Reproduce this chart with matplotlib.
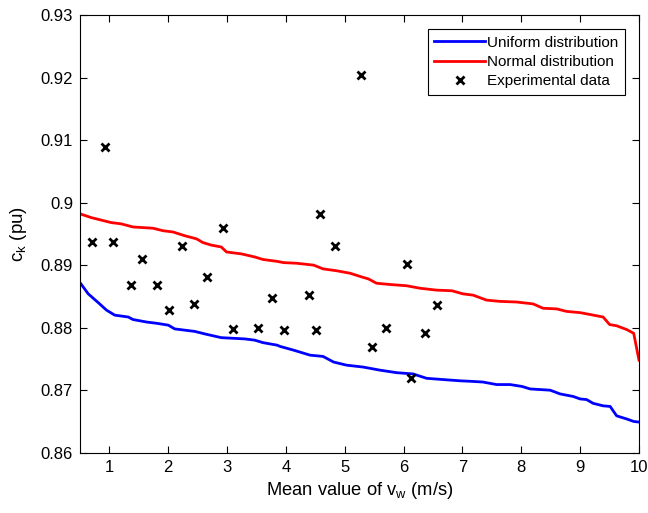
import matplotlib
matplotlib.use('Agg')
import matplotlib.pyplot as plt

plt.rcParams['font.family'] = ['Liberation Sans', 'DejaVu Sans']
plt.rcParams['mathtext.fontset'] = 'custom'
plt.rcParams['mathtext.rm'] = 'Liberation Sans'

# uniform distribution curve
uniform_x = [0.5, 0.64, 0.81, 0.95, 1.09, 1.32, 1.40, 1.63, 1.80, 2.00, 2.11, 2.45, 2.62, 2.90,
             3.30, 3.47, 3.61, 3.85, 3.90, 4.13, 4.41, 4.63, 4.81, 5.03, 5.31, 5.60, 5.88, 6.16,
             6.39, 6.67, 6.96, 7.18, 7.35, 7.58, 7.81, 8.01, 8.15, 8.49, 8.66, 8.88, 9.00, 9.11,
             9.22, 9.39, 9.51, 9.62, 9.79, 9.91, 10.0]
uniform_y = [0.8872, 0.8854, 0.8840, 0.8828, 0.8820, 0.8817, 0.8813, 0.8809, 0.8807, 0.8804,
             0.8798, 0.8794, 0.8790, 0.8784, 0.8782, 0.8780, 0.8776, 0.8772, 0.8770, 0.8764,
             0.8756, 0.8754, 0.8745, 0.8740, 0.8737, 0.8732, 0.8728, 0.8726, 0.8719, 0.8717,
             0.8715, 0.8714, 0.8713, 0.8709, 0.8709, 0.8706, 0.8702, 0.8700, 0.8694, 0.8690,
             0.8686, 0.8685, 0.8679, 0.8675, 0.8674, 0.8659, 0.8654, 0.8650, 0.8649]

# normal distribution curve
normal_x = [0.5, 0.69, 1.03, 1.20, 1.40, 1.74, 1.91, 2.08, 2.28, 2.48, 2.59, 2.73, 2.90, 2.99,
            3.24, 3.47, 3.61, 3.85, 3.96, 4.18, 4.47, 4.63, 4.86, 5.09, 5.29, 5.40, 5.54, 5.77,
            6.05, 6.28, 6.56, 6.82, 7.01, 7.18, 7.41, 7.64, 7.92, 8.20, 8.37, 8.60, 8.77, 9.00,
            9.17, 9.39, 9.50, 9.62, 9.79, 9.91, 10.0]
normal_y = [0.8982, 0.8976, 0.8968, 0.8966, 0.8961, 0.8959, 0.8955, 0.8953, 0.8947, 0.8942,
            0.8936, 0.8932, 0.8929, 0.8921, 0.8918, 0.8913, 0.8909, 0.8906, 0.8904, 0.8903,
            0.8900, 0.8894, 0.8891, 0.8887, 0.8881, 0.8878, 0.8871, 0.8869, 0.8867, 0.8863,
            0.8860, 0.8859, 0.8854, 0.8852, 0.8844, 0.8842, 0.8841, 0.8838, 0.8831, 0.8830,
            0.8826, 0.8824, 0.8821, 0.8817, 0.8805, 0.8803, 0.8797, 0.8791, 0.8748]

# experimental points
exp_x = [0.70, 0.93, 1.06, 1.36, 1.56, 1.80, 2.01, 2.23, 2.43, 2.65, 2.93, 3.10, 3.53,
         3.76, 3.97, 4.40, 4.51, 4.57, 4.83, 5.27, 5.47, 5.70, 6.06, 6.13, 6.37, 6.56]
exp_y = [0.8937, 0.9089, 0.8937, 0.8868, 0.8910, 0.8868, 0.8829, 0.8930, 0.8838, 0.8881,
         0.8959, 0.8798, 0.8799, 0.8847, 0.8797, 0.8852, 0.8797, 0.8982, 0.8931, 0.9204,
         0.8769, 0.8799, 0.8902, 0.8719, 0.8792, 0.8837]

x_ticks = [1, 2, 3, 4, 5, 6, 7, 8, 9, 10]
y_ticks = [0.86, 0.87, 0.88, 0.89, 0.9, 0.91, 0.92, 0.93]
y_tick_labels = ['0.86', '0.87', '0.88', '0.89', '0.9', '0.91', '0.92', '0.93']

fig = plt.figure(figsize=(6.48, 5.13), dpi=100)
ax = fig.add_axes([0.1235, 0.1175, 0.8626, 0.8533])

ax.plot(uniform_x, uniform_y, color='#0000ff', lw=2, label='Uniform distribution')
ax.plot(normal_x, normal_y, color='#ff0000', lw=2, label='Normal distribution')
ax.plot(exp_x, exp_y, 'x', color='black', ms=6, mew=2, label='Experimental data')

ax.set_xlim(0.5, 10)
ax.set_ylim(0.86, 0.93)
ax.set_xticks(x_ticks)
ax.set_yticks(y_ticks)
ax.set_yticklabels(y_tick_labels)
ax.tick_params(direction='in', top=True, right=True, labelsize=12, length=5, width=0.8, pad=5)

ax.set_xlabel(r'Mean value of v$_\mathregular{w}$ (m/s)', fontsize=13.2, labelpad=4)
ax.set_ylabel(r'c$_\mathregular{k}$ (pu)', fontsize=13.5, labelpad=8)

leg = ax.legend(loc='upper right', fontsize=11, handlelength=3.3, fancybox=False,
                edgecolor='black', framealpha=1, borderaxespad=0.9, handletextpad=0.15,
                labelspacing=0.35, borderpad=0.45)
leg.get_frame().set_linewidth(0.8)

fig.savefig('out.png', dpi=100)
